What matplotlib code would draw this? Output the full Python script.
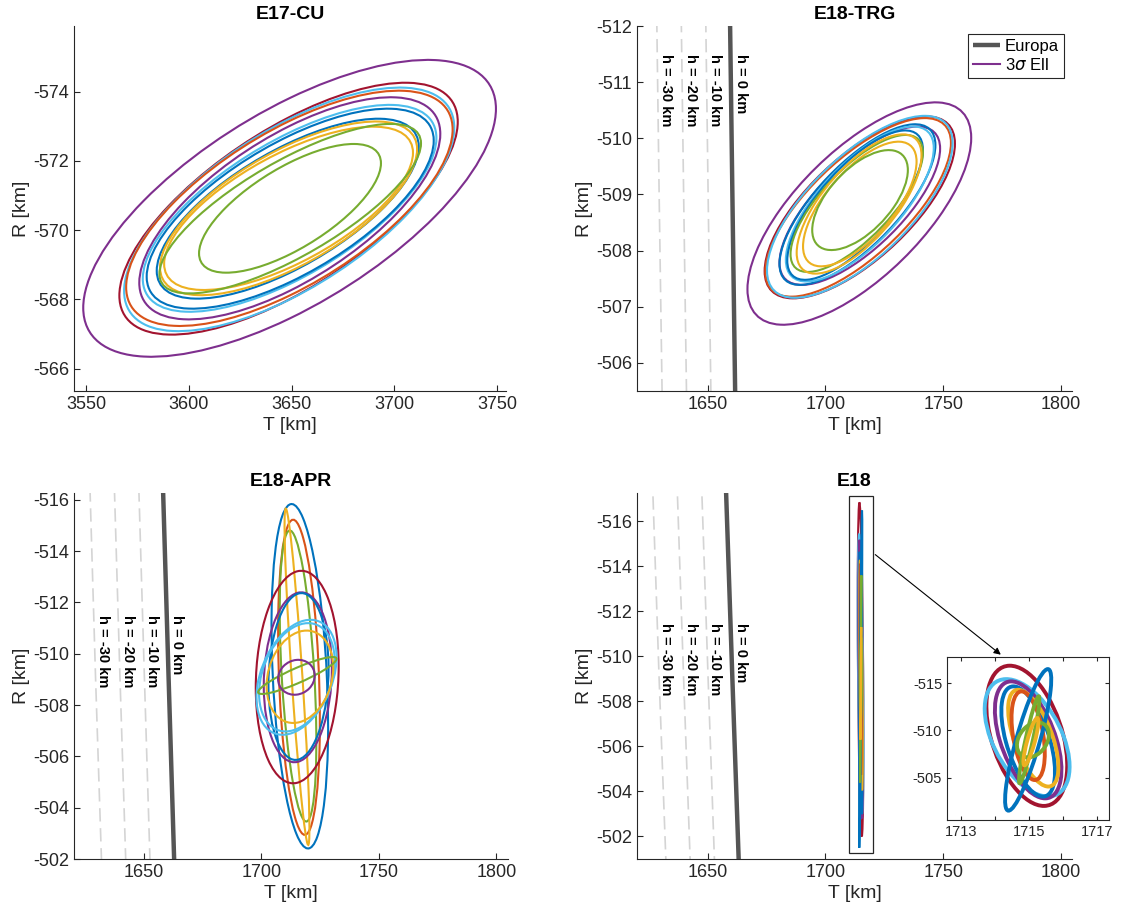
import numpy as np
import matplotlib
matplotlib.use('Agg')
import matplotlib.pyplot as plt
from matplotlib.patches import Ellipse, Rectangle
from matplotlib.lines import Line2D
from matplotlib.ticker import FixedLocator

plt.rcParams['font.family'] = ['Liberation Sans', 'DejaVu Sans']
plt.rcParams['axes.unicode_minus'] = False

# MATLAB default colour order
BL, OR, YE, PU, GR, LB, DR = '#0072BD', '#D95319', '#EDB120', '#7E2F8E', '#77AC30', '#4DBEEE', '#A2142F'
AXC = '#262626'

# ---- E17-CU ellipses: centre T, centre R, half-extent T, half-extent R, correlation
cu_cT = [3649.0, 3648.5, 3648.8, 3648.9, 3649.1, 3649.0, 3649.3, 3648.1, 3648.5, 3648.5, 3649.3, 3649.2]
cu_cR = [-570.63, -570.62, -570.60, -570.63, -570.63, -570.63, -570.62, -570.62, -570.63, -570.63, -570.62, -570.63]
cu_sT = [100.5, 82.4, 80.4, 79.5, 73.3, 71.5, 69.9, 63.8, 62.6, 60.6, 63.7, 44.3]
cu_sR = [4.29, 3.64, 3.52, 3.40, 3.21, 2.99, 2.89, 2.60, 2.51, 2.36, 2.45, 1.86]
cu_rho = [-0.67, -0.69, -0.67, -0.67, -0.67, -0.68, -0.68, -0.69, -0.68, -0.68, -0.77, -0.70]
cu_col = [PU, DR, LB, OR, PU, LB, BL, BL, YE, YE, GR, GR]

# ---- E18-TRG ellipses
trg_cT = [1714.4, 1714.6, 1713.9, 1714.6, 1714.6, 1713.6, 1714.6, 1712.6, 1713.3, 1714.3, 1714.6, 1714.7]
trg_cR = [-508.66, -508.77, -508.77, -508.78, -508.80, -508.82, -508.83, -508.81, -508.84, -508.83, -508.83, -508.90]
trg_sT = [47.5, 40.4, 39.4, 39.4, 34.1, 33.1, 31.4, 28.8, 28.1, 26.5, 24.1, 20.3]
trg_sR = [1.98, 1.62, 1.59, 1.62, 1.41, 1.43, 1.38, 1.33, 1.22, 1.24, 1.11, 0.89]
trg_rho = [-0.68, -0.70, -0.72, -0.70, -0.72, -0.74, -0.72, -0.74, -0.74, -0.70, -0.68, -0.60]
trg_col = [PU, DR, OR, LB, PU, BL, LB, BL, GR, YE, YE, GR]

# ---- E18-APR ellipses
apr_cT = [1716.35, 1716.0, 1715.6, 1715.15, 1715.25, 1715.5, 1715.8, 1714.95, 1715.1, 1716.4, 1715.3, 1714.9]
apr_cR = [-509.12, -509.08, -509.13, -509.10, -509.09, -509.08, -509.11, -509.08, -509.08, -509.10, -509.15, -509.08]
apr_sT = [12.05, 8.9, 7.8, 5.3, 17.65, 14.5, 12.8, 17.05, 16.1, 14.2, 16.7, 7.8]
apr_sR = [6.71, 6.14, 5.67, 6.55, 4.14, 3.31, 3.25, 2.24, 2.11, 1.80, 0.72, 0.68]
apr_rho = [0.29, 0.28, 0.45, 0.90, -0.10, -0.10, -0.10, -0.35, -0.30, -0.20, -0.90, -0.10]
apr_col = [BL, OR, GR, YE, DR, PU, BL, LB, LB, YE, GR, PU]

# ---- E18 (combined) ellipses, shown again in the zoom inset
e18_cT = [1714.93, 1714.94, 1714.97, 1714.97, 1715.12, 1714.97, 1714.97, 1715.00, 1715.11, 1715.05]
e18_cR = [-509.42, -509.21, -508.99, -508.82, -509.17, -509.43, -508.99, -509.00, -508.99, -508.80]
e18_sT = [1.19, 1.25, 0.98, 0.79, 0.74, 0.49, 0.68, 0.30, 0.47, 0.22]
e18_sR = [7.42, 6.21, 6.19, 5.83, 5.12, 4.69, 7.49, 4.60, 1.85, 2.50]
e18_rho = [0.42, 0.49, 0.51, 0.55, 0.60, 0.40, -0.85, -0.93, -0.30, -0.85]
e18_col = [DR, LB, PU, BL, YE, OR, BL, GR, GR, YE]

# ---- Europa surface and altitude contours (T at given R)
surf_R = [-518.0, -509.0, -500.0]
surf_T_0 = [1657.6, 1660.5, 1663.5]
surf_T_10 = [1647.3, 1650.2, 1653.2]
surf_T_20 = [1636.9, 1639.8, 1642.9]
surf_T_30 = [1626.5, 1629.4, 1632.6]
h_labels = ['h = 0 km', 'h = -10 km', 'h = -20 km', 'h = -30 km']
h_label_T = [1664.0, 1653.3, 1643.0, 1632.5]
h_label_R = -511.5


def add_ellipse(ax, cT, cR, sT, sR, rho, col, lw):
    C = np.array([[sT ** 2, rho * sT * sR], [rho * sT * sR, sR ** 2]])
    vals, vecs = np.linalg.eigh(C)
    ang = np.degrees(np.arctan2(vecs[1, 1], vecs[0, 1]))
    ax.add_patch(Ellipse((cT, cR), 2 * np.sqrt(vals[1]), 2 * np.sqrt(vals[0]), angle=ang,
                         fill=False, ec=col, lw=lw))


def draw_set(ax, cT, cR, sT, sR, rho, col, lw=1.5):
    for i in range(len(cT)):
        add_ellipse(ax, cT[i], cR[i], sT[i], sR[i], rho[i], col[i], lw)


def draw_surface(ax):
    for tt in (surf_T_10, surf_T_20, surf_T_30):
        ax.plot(tt, surf_R, color='#d4d4d4', lw=1.2, dashes=(8, 4))
    ln, = ax.plot(surf_T_0, surf_R, color='#555555', lw=3.2, solid_capstyle='butt')
    for i in range(len(h_labels)):
        ax.text(h_label_T[i], h_label_R, h_labels[i], rotation=-90, ha='center', va='top',
                fontsize=10.5, fontweight='bold', color='black')
    return ln


def style(ax, title, xlim, ylim, xt, yt):
    ax.set_xlim(xlim)
    ax.set_ylim(ylim)
    ax.set_xticks(xt)
    ax.set_yticks(yt)
    ax.spines['top'].set_visible(False)
    ax.spines['right'].set_visible(False)
    for s in ('left', 'bottom'):
        ax.spines[s].set_color(AXC)
        ax.spines[s].set_linewidth(0.8)
    ax.tick_params(direction='in', length=4, width=0.8, color=AXC, labelcolor=AXC, labelsize=13)
    ax.set_xlabel('T [km]', fontsize=14, color=AXC, labelpad=3)
    ax.set_ylabel('R [km]', fontsize=14, color=AXC, labelpad=2)
    ax.set_title(title, fontsize=14, fontweight='bold', pad=5)


fig = plt.figure(figsize=(11.29, 9.21), dpi=100)
W, H = 1129.0, 921.0
ax1 = fig.add_axes([74 / W, 1 - 391 / H, 432 / W, 365 / H])
ax2 = fig.add_axes([637 / W, 1 - 391 / H, 435 / W, 365 / H])
ax3 = fig.add_axes([74 / W, 1 - 859 / H, 434 / W, 366 / H])
ax4 = fig.add_axes([637 / W, 1 - 859 / H, 435 / W, 366 / H])

# E17-CU
draw_set(ax1, cu_cT, cu_cR, cu_sT, cu_sR, cu_rho, cu_col)
style(ax1, 'E17-CU', (3544.0, 3754.4), (-565.35, -575.9), range(3550, 3751, 50), range(-574, -565, 2))

# E18-TRG
europa = draw_surface(ax2)
draw_set(ax2, trg_cT, trg_cR, trg_sT, trg_sR, trg_rho, trg_col)
style(ax2, 'E18-TRG', (1620.0, 1804.7), (-505.5, -512.0), [1650, 1700, 1750, 1800], range(-512, -505))
leg = ax2.legend([europa, Line2D([], [], color=PU, lw=1.5)], ['Europa', '3$\\sigma$ Ell'],
                 loc='upper right', fontsize=12, frameon=True, fancybox=False, framealpha=1,
                 edgecolor=AXC, borderaxespad=0.5, handlelength=1.6, handletextpad=0.3,
                 labelspacing=0.15, borderpad=0.3)
leg.get_frame().set_linewidth(0.8)

# E18-APR
draw_surface(ax3)
draw_set(ax3, apr_cT, apr_cR, apr_sT, apr_sR, apr_rho, apr_col)
style(ax3, 'E18-APR', (1620.2, 1805.0), (-502.0, -516.26), [1650, 1700, 1750, 1800], range(-516, -501, 2))

# E18
draw_surface(ax4)
draw_set(ax4, e18_cT, e18_cR, e18_sT, e18_sR, e18_rho, e18_col)
style(ax4, 'E18', (1620.0, 1804.7), (-501.0, -517.26), [1650, 1700, 1750, 1800], range(-516, -501, 2))
ax4.add_patch(Rectangle((1710.05, -517.11), 10.2, 15.85, fill=False, ec=AXC, lw=0.9))
ax4.annotate('', xy=(1775.4, -510.0), xytext=(1720.25, -514.6),
             arrowprops=dict(arrowstyle='-|>', color='black', lw=0.8, mutation_scale=10))

# zoom inset
axi = fig.add_axes([947 / W, 1 - 820 / H, 162 / W, 163 / H])
draw_set(axi, e18_cT, e18_cR, e18_sT, e18_sR, e18_rho, e18_col, lw=2.8)
axi.set_xlim(1712.58, 1717.35)
axi.set_ylim(-500.51, -517.76)
axi.set_xticks([1713, 1715, 1717])
axi.xaxis.set_minor_locator(FixedLocator([1714, 1716]))
axi.set_yticks([-515, -510, -505])
for s in axi.spines.values():
    s.set_color(AXC)
    s.set_linewidth(0.8)
axi.tick_params(which='both', direction='in', top=True, right=True, length=3, width=0.8,
                color=AXC, labelcolor=AXC, labelsize=10.5)

fig.savefig('out.png', dpi=100, facecolor='white')
